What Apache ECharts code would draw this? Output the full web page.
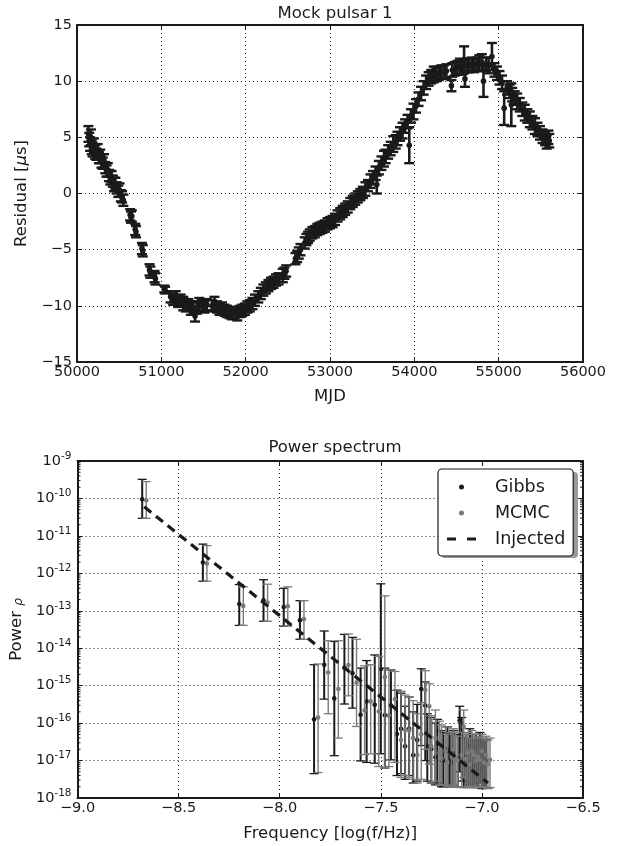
<!DOCTYPE html>
<html>
<head>
<meta charset="utf-8">
<script src="https://cdn.jsdelivr.net/npm/echarts@6/dist/echarts.min.js"></script>
<style>
  html, body { margin: 0; padding: 0; background: #fff; }
  #chart { width: 630px; height: 846px; }
</style>
</head>
<body>
<div id="chart"></div>
<script>
// ---- timing residuals (top panel) ----
var mjd = [50135, 50145, 50155, 50165, 50175, 50185, 50200, 50215, 50230, 50245,
  50260, 50275, 50290, 50305, 50320, 50335, 50350, 50365, 50380, 50395,
  50410, 50425, 50440, 50455, 50470, 50490, 50505, 50520, 50535, 50550,
  50630, 50640, 50650, 50690, 50700, 50770, 50780, 50860, 50870, 50920,
  50930, 51035, 51045, 51110, 51140, 51170, 51200, 51230, 51260, 51290,
  51320, 51350, 51380, 51400, 51420, 51450, 51480, 51510, 51540, 51600,
  51630, 51660, 51690, 51720, 51750, 51780, 51810, 51840, 51870, 51900,
  51930, 51960, 51990, 52020, 52050, 52080, 52110, 52150, 52180, 52210,
  52240, 52270, 52300, 52330, 52360, 52390, 52440, 52460, 52480, 52590,
  52610, 52630, 52650, 52700, 52720, 52740, 52760, 52790, 52820, 52850,
  52880, 52910, 52940, 52970, 53000, 53030, 53060, 53090, 53120, 53150,
  53180, 53210, 53240, 53270, 53300, 53330, 53360, 53390, 53420, 53450,
  53480, 53510, 53540, 53555, 53580, 53610, 53640, 53660, 53690, 53720,
  53750, 53780, 53800, 53830, 53860, 53890, 53920, 53940, 53960, 53990,
  54020, 54050, 54080, 54110, 54140, 54170, 54200, 54230, 54260, 54290,
  54320, 54350, 54380, 54440, 54450, 54480, 54510, 54540, 54570, 54590,
  54600, 54620, 54650, 54680, 54710, 54740, 54770, 54800, 54820, 54850,
  54880, 54920, 54950, 54980, 55010, 55040, 55065, 55100, 55130, 55150,
  55160, 55190, 55220, 55250, 55280, 55310, 55340, 55370, 55400, 55430,
  55460, 55490, 55520, 55550, 55570, 55590, 55600];
var residual = [5.3, 4.8, 4.4, 5.0, 4.1, 3.9, 4.3, 3.7, 3.5, 3.8,
  3.2, 3.3, 2.9, 2.7, 2.9, 2.3, 2.0, 2.1, 1.6, 1.4,
  1.5, 1.1, 0.8, 0.9, 0.5, 0.2, 0.3, -0.2, -0.3, -0.6,
  -1.9, -2.1, -2.0, -3.2, -3.4, -4.9, -5.1, -6.8, -7.0, -7.4,
  -7.6, -8.5, -8.6, -9.2, -9.4, -9.3, -9.6, -9.5, -9.8, -10.0,
  -9.9, -10.2, -10.1, -10.9, -10.2, -9.9, -10.0, -10.1, -9.9, -10.0,
  -9.8, -10.1, -10.3, -10.2, -10.4, -10.5, -10.6, -10.7, -10.6, -10.8,
  -10.5, -10.4, -10.3, -10.1, -10.0, -9.8, -9.5, -9.2, -8.9, -8.6,
  -8.4, -8.2, -8.0, -7.9, -7.7, -7.6, -7.3, -7.1, -6.9, -5.8,
  -5.6, -5.3, -5.0, -4.4, -4.1, -3.9, -3.7, -3.5, -3.4, -3.2,
  -3.1, -3.0, -2.9, -2.7, -2.6, -2.5, -2.3, -2.0, -1.8, -1.6,
  -1.4, -1.2, -0.9, -0.7, -0.5, -0.3, -0.1, 0.1, 0.4, 0.7,
  1.1, 1.4, 1.8, 0.8, 2.3, 2.7, 3.1, 3.3, 3.7, 4.0,
  4.4, 4.6, 4.9, 5.3, 5.6, 6.0, 6.4, 4.3, 6.9, 7.3,
  7.8, 8.4, 8.9, 9.4, 9.9, 10.2, 10.4, 10.6, 10.6, 10.7,
  10.8, 10.8, 10.9, 9.6, 11.0, 11.1, 11.2, 11.3, 11.2, 11.9,
  10.2, 11.4, 11.4, 11.5, 11.4, 11.5, 11.6, 11.7, 10.0, 11.5,
  11.4, 12.2, 11.0, 10.7, 10.3, 9.9, 7.6, 9.4, 9.1, 7.9,
  8.8, 8.5, 8.2, 7.9, 7.5, 7.2, 6.9, 6.6, 6.3, 6.0,
  5.7, 5.4, 5.1, 4.9, 4.6, 5.0, 4.7];
var residualErr = [0.7, 0.6, 0.6, 0.7, 0.6, 0.6, 0.6, 0.6, 0.5, 0.6,
  0.5, 0.6, 0.6, 0.5, 0.6, 0.5, 0.5, 0.6, 0.5, 0.6,
  0.5, 0.5, 0.6, 0.5, 0.5, 0.5, 0.6, 0.5, 0.5, 0.5,
  0.5, 0.5, 0.5, 0.5, 0.5, 0.5, 0.5, 0.5, 0.5, 0.5,
  0.5, 0.3, 0.3, 0.5, 0.5, 0.6, 0.5, 0.5, 0.6, 0.5,
  0.5, 0.6, 0.5, 0.5, 0.5, 0.6, 0.5, 0.5, 0.5, 0.5,
  0.6, 0.5, 0.5, 0.5, 0.5, 0.5, 0.5, 0.5, 0.5, 0.5,
  0.5, 0.5, 0.5, 0.5, 0.5, 0.5, 0.5, 0.5, 0.5, 0.5,
  0.5, 0.5, 0.5, 0.5, 0.5, 0.5, 0.6, 0.5, 0.5, 0.5,
  0.5, 0.5, 0.5, 0.5, 0.5, 0.5, 0.5, 0.5, 0.5, 0.5,
  0.5, 0.5, 0.5, 0.5, 0.5, 0.5, 0.5, 0.5, 0.5, 0.5,
  0.5, 0.5, 0.5, 0.5, 0.5, 0.5, 0.5, 0.5, 0.6, 0.5,
  0.6, 0.6, 0.6, 0.8, 0.6, 0.6, 0.7, 0.6, 0.6, 0.6,
  0.7, 0.6, 0.6, 0.6, 0.7, 0.6, 0.6, 1.6, 0.6, 0.7,
  0.6, 0.6, 0.6, 0.6, 0.6, 0.6, 0.6, 0.7, 0.6, 0.6,
  0.6, 0.6, 0.6, 0.5, 0.6, 0.6, 0.6, 0.7, 0.6, 1.2,
  0.7, 0.6, 0.6, 0.6, 0.6, 0.6, 0.7, 0.7, 1.4, 0.6,
  0.7, 1.2, 0.6, 0.6, 0.6, 0.6, 1.5, 0.6, 0.6, 1.9,
  0.6, 0.6, 0.7, 0.6, 0.6, 0.7, 0.6, 0.7, 0.6, 0.7,
  0.6, 0.6, 0.6, 0.6, 0.6, 0.6, 0.6];

// ---- power spectrum (bottom panel), values as log10(power) ----
var freq = [-8.68, -8.38, -8.20, -8.08, -7.98, -7.90, -7.83, -7.78, -7.73, -7.68,
  -7.64, -7.60, -7.57, -7.53, -7.50, -7.48, -7.45, -7.42, -7.40, -7.38,
  -7.36, -7.34, -7.32, -7.30, -7.28, -7.27, -7.25, -7.23, -7.22, -7.20,
  -7.19, -7.17, -7.16, -7.15, -7.14, -7.12, -7.11, -7.10, -7.09, -7.08,
  -7.07, -7.06, -7.05, -7.04, -7.03, -7.02, -7.01, -7.00, -6.99, -6.98];
var gibbsLog = [-10.02, -11.71, -12.82, -12.72, -12.90, -13.25, -15.90, -14.44, -15.34, -14.52,
  -14.67, -15.78, -15.42, -15.51, -14.56, -15.79, -15.53, -16.29, -16.15, -16.62,
  -16.15, -16.86, -16.45, -15.09, -15.53, -16.62, -16.69, -16.91, -16.55, -16.98,
  -17.00, -16.70, -16.91, -17.05, -16.80, -16.95, -15.93, -16.30, -17.04, -16.90,
  -17.10, -16.60, -16.78, -17.15, -16.65, -16.98, -16.40, -17.22, -16.95, -17.00];
var gibbsLoLog = [-10.53, -12.21, -13.39, -13.28, -13.41, -13.76, -17.35, -15.36, -16.87, -15.49,
  -15.60, -17.01, -17.05, -17.07, -16.82, -17.20, -16.98, -17.40, -17.35, -17.50,
  -17.40, -17.60, -17.55, -16.60, -17.00, -17.55, -17.60, -17.65, -17.60, -17.70,
  -17.70, -17.65, -17.70, -17.70, -17.65, -17.70, -17.30, -17.55, -17.72, -17.70,
  -17.72, -17.65, -17.70, -17.72, -17.68, -17.72, -17.60, -17.75, -17.72, -17.72];
var gibbsHiLog = [-9.49, -11.22, -12.30, -12.17, -12.40, -12.73, -14.44, -13.54, -13.82, -13.63,
  -13.71, -14.53, -14.33, -14.18, -12.28, -14.53, -14.58, -15.12, -15.20, -15.55,
  -15.30, -15.70, -15.50, -14.55, -14.90, -15.75, -15.85, -16.00, -15.90, -16.20,
  -16.25, -16.10, -16.25, -16.30, -16.20, -16.30, -15.55, -15.85, -16.40, -16.30,
  -16.40, -16.15, -16.30, -16.45, -16.30, -16.40, -16.25, -16.50, -16.45, -16.45];
var mcmcLog = [-10.05, -11.74, -12.87, -12.78, -12.88, -13.22, -15.85, -14.65, -15.09, -14.45,
  -14.92, -15.66, -15.42, -15.69, -14.77, -15.80, -15.36, -16.45, -16.18, -16.20,
  -16.40, -16.85, -16.30, -15.11, -15.55, -16.62, -16.40, -16.80, -16.95, -16.75,
  -17.05, -16.90, -16.70, -16.95, -17.00, -16.85, -16.10, -16.95, -16.80, -17.10,
  -16.75, -16.85, -17.00, -16.90, -16.98, -16.75, -17.05, -16.85, -17.10, -16.98];
var mcmcLoLog = [-10.53, -12.21, -13.39, -13.28, -13.41, -13.76, -17.32, -15.75, -16.40, -15.27,
  -16.09, -16.84, -16.82, -17.16, -17.20, -17.16, -17.05, -17.45, -17.40, -17.45,
  -17.50, -17.60, -17.50, -16.70, -17.10, -17.60, -17.55, -17.65, -17.65, -17.65,
  -17.70, -17.70, -17.65, -17.70, -17.72, -17.70, -17.45, -17.70, -17.70, -17.72,
  -17.68, -17.70, -17.72, -17.72, -17.72, -17.70, -17.72, -17.72, -17.75, -17.72];
var mcmcHiLog = [-9.55, -11.26, -12.36, -12.29, -12.36, -12.73, -14.42, -13.80, -13.80, -13.62,
  -13.76, -14.47, -14.44, -14.22, -12.60, -14.58, -14.62, -15.15, -15.25, -15.30,
  -15.40, -15.75, -15.45, -14.60, -14.95, -15.80, -15.65, -15.95, -16.05, -16.10,
  -16.30, -16.25, -16.15, -16.25, -16.35, -16.25, -15.65, -16.30, -16.25, -16.40,
  -16.20, -16.30, -16.40, -16.35, -16.40, -16.30, -16.40, -16.35, -16.45, -16.40];
var injectedFreq = [-8.67, -6.97];
var injectedPower = [6.0e-11, 2.5e-18];

var mcmcShift = 0.02;   // MCMC drawn a hair to the right of Gibbs
var minorMult = [2, 3, 4, 5, 6, 7, 8, 9];

var FONT = 'DejaVu Sans';
var INK = '#1a1a1a';
var GREY = '#7a7a7a';

var chart = echarts.init(document.getElementById('chart'), null, { renderer: 'canvas' });

function minus(s) { return String(s).replace('-', '\u2212'); }

function errBar(color, barW, capW, capHalf, dotR) {
  return function (params, api) {
    var x = api.value(0);
    var c = api.coord([x, api.value(1)]);
    var lo = api.coord([x, api.value(2)]);
    var hi = api.coord([x, api.value(3)]);
    return {
      type: 'group',
      children: [
        { type: 'line', shape: { x1: lo[0], y1: lo[1], x2: hi[0], y2: hi[1] }, style: { stroke: color, lineWidth: barW } },
        { type: 'line', shape: { x1: lo[0] - capHalf, y1: lo[1], x2: lo[0] + capHalf, y2: lo[1] }, style: { stroke: color, lineWidth: capW } },
        { type: 'line', shape: { x1: hi[0] - capHalf, y1: hi[1], x2: hi[0] + capHalf, y2: hi[1] }, style: { stroke: color, lineWidth: capW } },
        { type: 'circle', shape: { cx: c[0], cy: c[1], r: dotR }, style: { fill: color } }
      ]
    };
  };
}

var resData = mjd.map(function (m, i) {
  return [m, residual[i], residual[i] - residualErr[i], residual[i] + residualErr[i]];
});
var gibbsData = freq.map(function (f, i) {
  return [f, Math.pow(10, gibbsLog[i]), Math.pow(10, gibbsLoLog[i]), Math.pow(10, gibbsHiLog[i])];
});
var mcmcData = freq.map(function (f, i) {
  return [f + mcmcShift, Math.pow(10, mcmcLog[i]), Math.pow(10, mcmcLoLog[i]), Math.pow(10, mcmcHiLog[i])];
});
var injectedData = injectedFreq.map(function (f, i) { return [f, injectedPower[i]]; });

var minorTicks = [];
for (var d = -18; d < -9; d++) {
  minorMult.forEach(function (k) { minorTicks.push([-9, k * Math.pow(10, d)]); });
}

var labelStyle = { fontFamily: FONT, fontSize: 14.5, color: INK };
var nameStyle = { fontFamily: FONT, fontSize: 16.5, color: INK };
var gridDots = { show: true, lineStyle: { color: '#222', width: 1, type: [1, 3] } };
var frameLine = { show: true, onZero: false, lineStyle: { color: INK, width: 2 } };
var innerTick = { show: true, inside: true, length: 5, lineStyle: { color: INK, width: 1 } };

function twin(ax, pos) {
  return Object.assign({}, ax, {
    position: pos, name: '', axisLabel: { show: false }, splitLine: { show: false }
  });
}

var xTop = {
  gridIndex: 0, type: 'value', min: 50000, max: 56000, interval: 1000,
  name: 'MJD', nameLocation: 'middle', nameGap: 26, nameTextStyle: nameStyle,
  axisLine: frameLine, axisTick: innerTick, splitLine: gridDots,
  axisLabel: Object.assign({ margin: 3, formatter: function (v) { return String(v); } }, labelStyle)
};
var yTop = {
  gridIndex: 0, type: 'value', min: -15, max: 15, interval: 5,
  name: 'Residual [{i|\u03bc}s]', nameLocation: 'middle', nameGap: 39,
  nameTextStyle: Object.assign({ rich: { i: { fontFamily: FONT, fontSize: 16.5, fontStyle: 'italic', color: INK } } }, nameStyle),
  axisLine: frameLine, axisTick: innerTick, splitLine: gridDots,
  axisLabel: Object.assign({ margin: 5, formatter: minus }, labelStyle)
};
var xBot = {
  gridIndex: 1, type: 'value', min: -9, max: -6.5, interval: 0.5,
  name: 'Frequency [log(f/Hz)]', nameLocation: 'middle', nameGap: 27, nameTextStyle: nameStyle,
  axisLine: frameLine, axisTick: innerTick, splitLine: gridDots,
  axisLabel: Object.assign({ margin: 3, formatter: function (v) { return minus(v.toFixed(1)); } }, labelStyle)
};
var yBot = {
  gridIndex: 1, type: 'log', logBase: 10, min: 1e-18, max: 1e-9, splitNumber: 9,
  name: 'Power {r|\u03c1}', nameLocation: 'middle', nameGap: 52,
  nameTextStyle: Object.assign({ rich: { r: { fontFamily: FONT, fontSize: 12, fontStyle: 'italic', color: INK, padding: [4, 0, 0, 0] } } }, nameStyle),
  axisLine: frameLine, axisTick: innerTick, splitLine: gridDots,
  axisLabel: Object.assign({
    margin: 6,
    formatter: function (v) { return '10{s|' + Math.round(Math.log10(v)) + '}'; },
    rich: { s: { fontFamily: FONT, fontSize: 10.5, color: INK, padding: [0, 0, 10, 0] } }
  }, labelStyle)
};

var option = {
  backgroundColor: '#fff',
  animation: false,
  title: [
    { text: 'Mock pulsar 1', left: 330, top: 0, textAlign: 'center',
      textStyle: { fontFamily: FONT, fontSize: 16.5, fontWeight: 'normal', color: INK } },
    { text: 'Power spectrum', left: 330, top: 434, textAlign: 'center',
      textStyle: { fontFamily: FONT, fontSize: 16.5, fontWeight: 'normal', color: INK } }
  ],
  grid: [
    { left: 77, top: 25, width: 506, height: 337 },
    { left: 77, top: 461, width: 506, height: 337 }
  ],
  xAxis: [xTop, twin(xTop, 'top'), xBot, twin(xBot, 'top')],
  yAxis: [yTop, twin(yTop, 'right'), yBot, twin(yBot, 'right')],
  graphic: [
    // drop shadow behind the legend box
    { type: 'rect', left: 441, top: 472, z: 90, silent: true,
      shape: { width: 137, height: 86, r: 4 }, style: { fill: '#9a9a9a' } }
  ],
  legend: {
    left: 438, top: 469, orient: 'vertical', selectedMode: false, z: 100,
    data: [
      { name: 'Gibbs', icon: 'circle' },
      { name: 'MCMC', icon: 'circle' },
      { name: 'Injected', icon: 'path://M0,0H9V3H0Z M20,0H29V3H20Z' }
    ],
    itemWidth: 29, itemHeight: 5, itemGap: 8,
    textStyle: { fontFamily: FONT, fontSize: 17.5, color: INK, padding: [0, 0, 0, 14] },
    backgroundColor: '#fff', borderColor: INK, borderWidth: 1.2, borderRadius: 4,
    padding: [9, 8, 8, 9]
  },
  series: [
    {
      name: 'Residuals', type: 'custom', xAxisIndex: 0, yAxisIndex: 0,
      renderItem: errBar(INK, 2.6, 2.4, 5, 2.8), data: resData, silent: true
    },
    {
      name: 'Gibbs', type: 'custom', xAxisIndex: 2, yAxisIndex: 2,
      itemStyle: { color: INK },
      renderItem: errBar(INK, 2, 1.3, 4.5, 2.3), data: gibbsData, silent: true
    },
    {
      name: 'MCMC', type: 'custom', xAxisIndex: 2, yAxisIndex: 2,
      itemStyle: { color: GREY },
      renderItem: errBar(GREY, 1.4, 1.3, 4.5, 2.3), data: mcmcData, silent: true
    },
    {
      name: 'Injected', type: 'line', xAxisIndex: 2, yAxisIndex: 2,
      symbol: 'none', data: injectedData, silent: true,
      lineStyle: { color: INK, width: 3.2, type: [9, 6] },
      itemStyle: { color: INK }
    },
    {
      name: 'minor', type: 'custom', xAxisIndex: 2, yAxisIndex: 2, silent: true,
      data: minorTicks,
      renderItem: function (params, api) {
        var cs = params.coordSys;
        var p = api.coord([api.value(0), api.value(1)]);
        var st = { stroke: INK, lineWidth: 1 };
        return {
          type: 'group',
          children: [
            { type: 'line', shape: { x1: cs.x, y1: p[1], x2: cs.x + 3, y2: p[1] }, style: st },
            { type: 'line', shape: { x1: cs.x + cs.width - 3, y1: p[1], x2: cs.x + cs.width, y2: p[1] }, style: st }
          ]
        };
      }
    }
  ]
};

chart.setOption(option);
</script>
</body>
</html>
